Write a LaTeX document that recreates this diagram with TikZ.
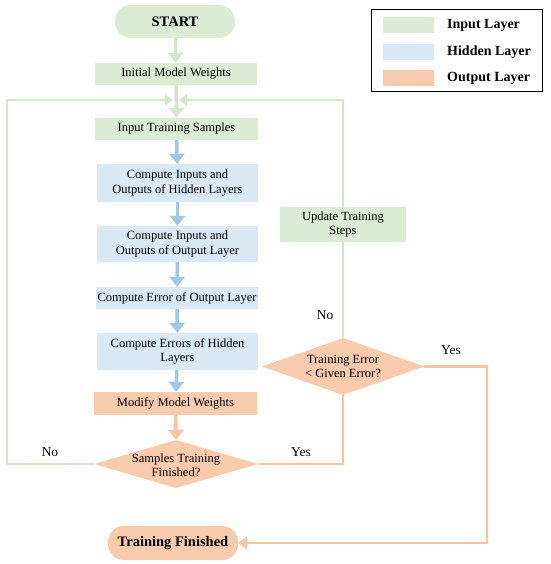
\documentclass[tikz,border=0pt]{standalone}
\usepackage{fontspec}
\setmainfont{Liberation Serif}
\usetikzlibrary{shapes.geometric,arrows.meta}
\definecolor{gfill}{RGB}{218,236,212}
\definecolor{bfill}{RGB}{218,233,246}
\definecolor{ofill}{RGB}{248,203,173}
\definecolor{gline}{RGB}{210,232,200}
\definecolor{barrow}{RGB}{160,198,232}
\definecolor{oline}{RGB}{247,196,164}
\tikzset{
  box/.style={rectangle, inner sep=0pt, align=center, font=\fontsize{12.5}{14.5}\selectfont},
  gbox/.style={box, fill=gfill},
  bbox/.style={box, fill=bfill},
  obox/.style={box, fill=ofill},
  term/.style={rectangle, rounded corners=16pt, inner sep=0pt, font=\fontsize{14.5}{16}\selectfont\bfseries},
  dec/.style={diamond, fill=ofill, inner sep=0pt},
  dectxt/.style={align=center, inner sep=0pt, font=\fontsize{12.5}{14.5}\selectfont},
  bigarrow/.style={line width=3.5pt, -{Triangle[width=15pt,length=10pt]}},
  garr/.style={bigarrow, draw=gline},
  barr/.style={bigarrow, draw=barrow},
  oarr/.style={bigarrow, draw=oline},
  loopg/.style={draw=gline, line width=2.5pt},
  loopo/.style={draw=oline, line width=2.5pt},
  lbl/.style={font=\fontsize{13.5}{15}\selectfont, inner sep=0pt},
  legtxt/.style={font=\fontsize{14}{16}\selectfont\bfseries, anchor=west, inner sep=0pt}
}
\begin{document}
\begin{tikzpicture}[x=1pt,y=-1pt]
\useasboundingbox (0,0) rectangle (550,564);
% nodes
\node[term, fill=gfill, minimum width=120pt, minimum height=33pt] (start) at (175,21.5) {START};
\node[gbox, minimum width=162pt, minimum height=22pt] (init) at (176,74) {Initial Model Weights};
\node[gbox, minimum width=163pt, minimum height=22pt] (input) at (176.5,129) {Input Training Samples};
\node[bbox, minimum width=161pt, minimum height=38pt] (hid) at (177.5,183) {Compute Inputs and\\Outputs of Hidden Layers};
\node[bbox, minimum width=161pt, minimum height=36pt] (outl) at (177.5,244) {Compute Inputs and\\Outputs of Output Layer};
\node[bbox, minimum width=162pt, minimum height=22pt] (err) at (177,298) {Compute Error of Output Layer};
\node[bbox, minimum width=161pt, minimum height=37pt] (errh) at (177.5,351.5) {Compute Errors of Hidden\\Layers};
\node[obox, minimum width=163pt, minimum height=23pt] (modify) at (175.5,403.5) {Modify Model Weights};
\node[dec, aspect=3.4, minimum width=164pt, minimum height=48pt] (samp) at (176,464) {};
\node[dectxt] (sampt) at (176,465) {Samples Training\\Finished?};
\node[dec, aspect=2.8, minimum width=162pt, minimum height=57pt] (terr) at (343,366.5) {};
\node[dectxt] (terrt) at (343,366.5) {Training Error\\< Given Error?};
\node[gbox, minimum width=126pt, minimum height=35pt] (update) at (343,224.5) {Update Training\\Steps};
\node[term, fill=ofill, minimum width=130pt, minimum height=34pt] (finish) at (173,543) {Training Finished};
% straight arrows
\draw[garr] (start) -- (init);
\draw[garr] (init) -- (input);
\draw[barr] (input) -- (hid);
\draw[barr] (hid) -- (outl);
\draw[barr] (outl) -- (err);
\draw[barr] (err) -- (errh);
\draw[barr] (errh) -- (modify);
\draw[oarr] (modify) -- (samp.north);
% merge point
\coordinate (m) at (176,100);
\coordinate (lcorner) at (7,100);
\coordinate (rcorner) at (343,100);
\coordinate (ycorner) at (487,366.5);
\draw[loopg, -{Triangle[width=11pt,length=8pt]}, shorten >=3pt] (samp.west) -| (lcorner) -- (m);
\draw[loopg, -{Triangle[width=11pt,length=8pt]}, shorten >=3pt] (update.north) -- (rcorner) -- (m);
\draw[loopo] (samp.east) -| (terr.south);
\draw[loopg] (terr.north) -- (update.south);
\draw[loopo, -{Triangle[width=13pt,length=9pt]}] (terr.east) -- (ycorner) |- (finish.east);
% labels
\node[lbl] (no1) at (50,452) {No};
\node[lbl] (yes1) at (301,452) {Yes};
\node[lbl] (no2) at (325,315) {No};
\node[lbl] (yes2) at (451,350) {Yes};
% legend
\node[draw=black, line width=1pt, minimum width=171pt, minimum height=82pt, inner sep=0pt] (legend) at (456.5,51) {};
\node[fill=gfill, minimum width=51pt, minimum height=16pt, inner sep=0pt] (lg) at (408,25) {};
\node[fill=bfill, minimum width=51pt, minimum height=16pt, inner sep=0pt] (lb) at (408,52) {};
\node[fill=ofill, minimum width=51pt, minimum height=16pt, inner sep=0pt] (lo) at (408,78) {};
\node[legtxt] (tg) at (447,25) {Input Layer};
\node[legtxt] (tb) at (447,52) {Hidden Layer};
\node[legtxt] (to) at (447,78) {Output Layer};
\end{tikzpicture}
\end{document}
